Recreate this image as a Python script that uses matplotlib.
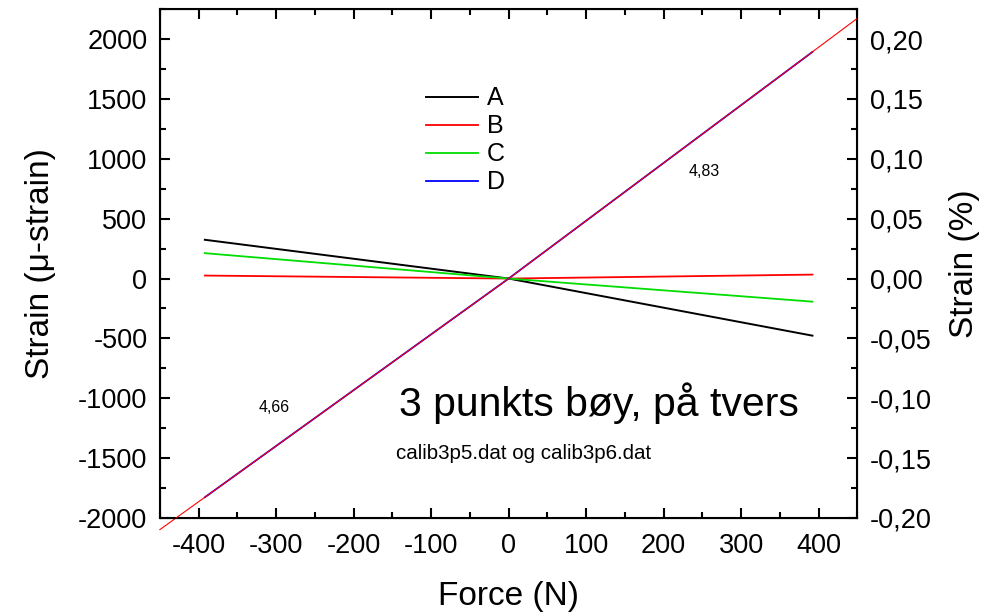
import matplotlib
matplotlib.use("Agg")
import matplotlib.pyplot as plt
from matplotlib.ticker import MultipleLocator, FuncFormatter

plt.rcParams['font.family'] = ['Liberation Sans', 'DejaVu Sans']
plt.rcParams['axes.unicode_minus'] = False

# måledata (kraft i N, tøyning i µ-strain)
force = [-392, 0, 392]
strain_a = [324, 0, -477]
strain_b = [25, 0, 33]
strain_c = [212, 0, -193]
strain_d = [-1827, 0, 1893]

# lineær tilpasning, to stigningstall
fit_x = [-450, 0, 450]
fit_y = [-2097, 0, 2174]
slope_labels = ["4,66", "4,83"]

fig = plt.figure(figsize=(9.81, 6.13), dpi=100)
ax = fig.add_axes([0.163, 0.155, 0.711, 0.830])

ax.plot(force, strain_a, color='black', lw=1.4, label='A')
ax.plot(force, strain_b, color='red', lw=1.3, label='B')
ax.plot(force, strain_c, color='#00dd00', lw=1.3, label='C')
ax.plot(force, strain_d, color='blue', lw=1.3, label='D')
ax.plot(fit_x, fit_y, color='red', lw=0.8, clip_on=False, zorder=5)

ax.set_xlim(-450, 450)
ax.set_ylim(-2000, 2250)
ax.xaxis.set_major_locator(MultipleLocator(100))
ax.xaxis.set_minor_locator(MultipleLocator(50))
ax.yaxis.set_major_locator(MultipleLocator(500))
ax.yaxis.set_minor_locator(MultipleLocator(250))
ax.tick_params(which='both', direction='in', top=True, width=1.5, labelsize=19.5)
ax.tick_params(axis='x', pad=11)
ax.tick_params(axis='y', pad=9)
ax.tick_params(which='major', length=7)
ax.tick_params(which='minor', length=4)
for s in ax.spines.values():
    s.set_linewidth(1.5)

ax.set_xlabel("Force (N)", fontsize=24, labelpad=16)
ax.set_ylabel("Strain (μ-strain)", fontsize=24, labelpad=16)

ax2 = ax.twinx()
ax2.set_ylim(-0.2, 0.225)
ax2.yaxis.set_major_locator(MultipleLocator(0.05))
ax2.yaxis.set_minor_locator(MultipleLocator(0.025))
ax2.yaxis.set_major_formatter(FuncFormatter(lambda v, p: f"{v:.2f}".replace('.', ',').replace('-0,00', '0,00')))
ax2.tick_params(which='both', direction='in', width=1.5, labelsize=19.5, pad=9)
ax2.tick_params(which='major', length=7)
ax2.tick_params(which='minor', length=4)
ax2.set_ylabel("Strain (%)", fontsize=24, labelpad=12)

ax.legend(loc='upper left', bbox_to_anchor=(0.367, 0.868), frameon=False,
          fontsize=18, handlelength=2.1, handletextpad=0.35, labelspacing=0.16,
          borderaxespad=0)

ax.text(-303, -1080, slope_labels[0], fontsize=11.5, ha='center', va='center')
ax.text(252, 896, slope_labels[1], fontsize=11.5, ha='center', va='center')
ax.text(117, -1040, "3 punkts bøy, på tvers", fontsize=29.5, ha='center', va='center')
ax.text(19, -1465, "calib3p5.dat og calib3p6.dat", fontsize=14.8, ha='center', va='center')

fig.savefig("out.png", dpi=100)
